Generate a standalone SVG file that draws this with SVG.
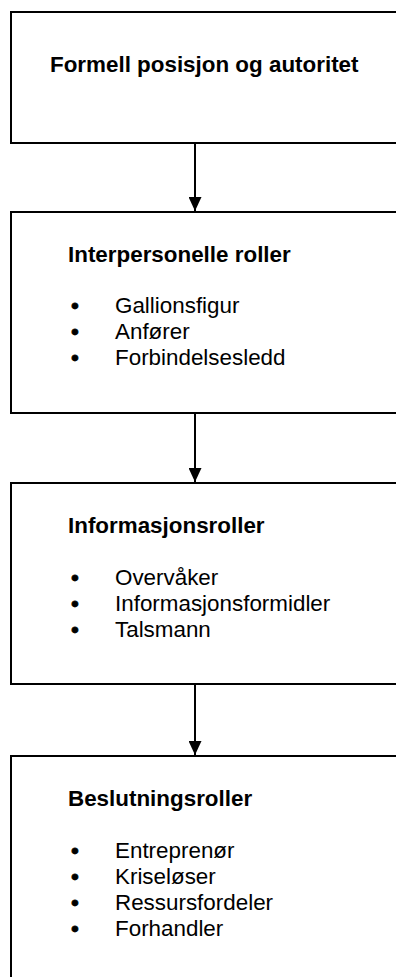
<svg xmlns="http://www.w3.org/2000/svg" width="396" height="977" viewBox="0 0 396 977">
<defs>
<style>
.box{fill:#fff;stroke:#000;stroke-width:2}
.t{font-family:"Liberation Sans",Arial,sans-serif;font-size:22.4px;fill:#000}
.b{font-weight:bold}
.bl{font-family:"Liberation Sans",Arial,sans-serif;font-size:22.4px;fill:#000;stroke:#000;stroke-width:0.8}
.edge{stroke:#000;stroke-width:2;fill:none}
</style>
<marker id="ah" viewBox="0 0 14 13" refX="14" refY="6.5" markerWidth="14" markerHeight="13" markerUnits="userSpaceOnUse" orient="auto">
<path d="M0,0 L14,6.5 L0,13 Z" fill="#000"/>
</marker>
</defs>
<rect width="396" height="977" fill="#fff"/>
<g id="connectors">
<line class="edge" x1="195" y1="143" x2="195" y2="211" marker-end="url(#ah)"/>
<line class="edge" x1="195" y1="413" x2="195" y2="482" marker-end="url(#ah)"/>
<line class="edge" x1="195" y1="684" x2="195" y2="755" marker-end="url(#ah)"/>
</g>
<g id="n1">
<rect class="box" x="11" y="12" width="400" height="131"/>
<text class="t b" x="50" y="71.5">Formell posisjon og autoritet</text>
</g>
<g id="n2">
<rect class="box" x="11" y="212" width="400" height="201"/>
<text class="t b" x="68" y="262">Interpersonelle roller</text>
<text class="bl" x="71" y="313">•</text><text class="t" x="115" y="313">Gallionsfigur</text>
<text class="bl" x="71" y="339">•</text><text class="t" x="115" y="339">Anfører</text>
<text class="bl" x="71" y="365">•</text><text class="t" x="115" y="365">Forbindelsesledd</text>
</g>
<g id="n3">
<rect class="box" x="11" y="483" width="400" height="201"/>
<text class="t b" x="68" y="533">Informasjonsroller</text>
<text class="bl" x="71" y="585">•</text><text class="t" x="115" y="585">Overvåker</text>
<text class="bl" x="71" y="611">•</text><text class="t" x="115" y="611">Informasjonsformidler</text>
<text class="bl" x="71" y="637">•</text><text class="t" x="115" y="637">Talsmann</text>
</g>
<g id="n4">
<rect class="box" x="11" y="756" width="400" height="240"/>
<text class="t b" x="68" y="806">Beslutningsroller</text>
<text class="bl" x="71" y="858">•</text><text class="t" x="115" y="858">Entreprenør</text>
<text class="bl" x="71" y="884">•</text><text class="t" x="115" y="884">Kriseløser</text>
<text class="bl" x="71" y="910">•</text><text class="t" x="115" y="910">Ressursfordeler</text>
<text class="bl" x="71" y="936">•</text><text class="t" x="115" y="936">Forhandler</text>
</g>
</svg>
